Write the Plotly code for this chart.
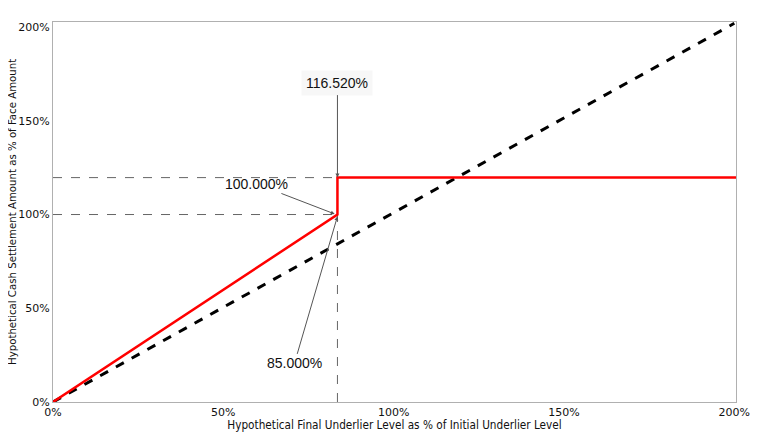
import plotly.graph_objects as go

# Data
underlier_x = [0, 200]
underlier_y = [0, 202]
payoff_x = [0, 83.5, 83.5, 200.5]
payoff_y = [0, 100, 119.7, 119.7]
kink_x = 83.5
lower_level = 100
upper_level = 119.7
x_ticks = [0, 50, 100, 150, 200]
y_ticks = [0, 50, 100, 150, 200]
tick_text = ["0%", "50%", "100%", "150%", "200%"]
labels = ["116.520%", "100.000%", "85.000%"]
x_title = "Hypothetical Final Underlier Level as % of Initial Underlier Level"
y_title = "Hypothetical Cash Settlement Amount as % of Face Amount"

fig = go.Figure()
# reference dashed lines
fig.add_trace(go.Scatter(x=[0, kink_x], y=[upper_level, upper_level], mode="lines",
                         line=dict(color="#666", width=1, dash="dash"), hoverinfo="skip"))
fig.add_trace(go.Scatter(x=[0, kink_x], y=[lower_level, lower_level], mode="lines",
                         line=dict(color="#666", width=1, dash="dash"), hoverinfo="skip"))
fig.add_trace(go.Scatter(x=[kink_x, kink_x], y=[0, lower_level], mode="lines",
                         line=dict(color="#666", width=1, dash="dash"), hoverinfo="skip"))
fig.add_trace(go.Scatter(x=underlier_x, y=underlier_y, mode="lines",
                         line=dict(color="black", width=3, dash="dash")))
fig.add_trace(go.Scatter(x=payoff_x, y=payoff_y, mode="lines",
                         line=dict(color="#ff0000", width=2.5)))

font_ann = dict(family="Liberation Sans, Arial", size=14, color="#111")
fig.add_annotation(x=kink_x, y=upper_level, xref="x", yref="y", text=labels[0],
                   showarrow=True, ax=0, ay=-95, arrowhead=2, arrowsize=0.8, arrowwidth=1,
                   arrowcolor="#555", font=font_ann, bgcolor="#f7f7f7", borderpad=4)
fig.add_annotation(x=kink_x - 0.8, y=lower_level + 0.3, xref="x", yref="y", text=labels[1],
                   showarrow=True, ax=-78, ay=-30, arrowhead=2, arrowsize=0.8, arrowwidth=1,
                   arrowcolor="#555", font=font_ann)
fig.add_annotation(x=kink_x, y=lower_level - 1, xref="x", yref="y", text=labels[2],
                   showarrow=True, ax=-43, ay=147, arrowhead=2, arrowsize=0.8, arrowwidth=1,
                   arrowcolor="#555", font=font_ann)

# y axis title as rotated text
fig.add_annotation(xref="paper", yref="paper", x=0, y=0.5, xshift=-41, text=y_title,
                   textangle=-90, showarrow=False, xanchor="center", yanchor="middle",
                   font=dict(family="DejaVu Sans", size=10.2, color="#111"))

axis_common = dict(showgrid=False, zeroline=False, showline=True, linecolor="#b0b0b0",
                   linewidth=1, mirror=True, ticks="", automargin=False,
                   tickfont=dict(family="DejaVu Sans", size=11, color="#111"))
title_font = dict(family="DejaVu Sans Condensed, DejaVu Sans", size=11.7, color="#111")
fig.update_xaxes(range=[0, 200.5], tickvals=x_ticks, ticktext=tick_text,
                 title=dict(text=x_title, font=title_font, standoff=2),
                 **axis_common)
fig.update_yaxes(range=[0, 202.7], tickvals=y_ticks, ticktext=tick_text,
                 **axis_common)
fig.update_layout(width=765, height=424, showlegend=False,
                  paper_bgcolor="white", plot_bgcolor="white",
                  margin=dict(l=45, r=37, t=14, b=30))
fig.write_html("out.html")
